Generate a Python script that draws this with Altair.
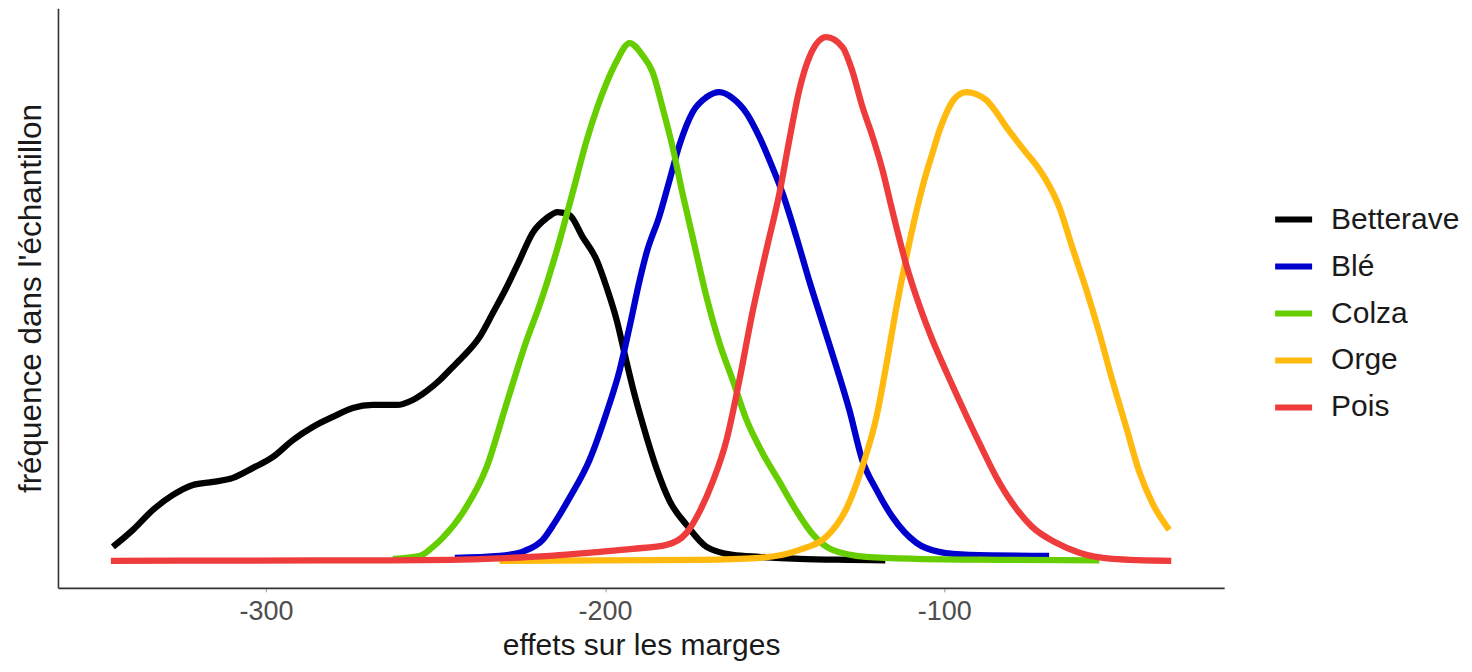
import altair as alt
import pandas as pd

# Density curves (x = effet sur les marges, y = relative frequency)
betterave_x = [-345.1, -339.2, -333.3, -327.4, -321.5, -315.6, -309.7, -303.8, -297.9, -292.0,
               -286.2, -280.3, -274.4, -268.5, -261.4, -256.7, -252.6, -248.7, -245.8, -242.0,
               -237.0, -233.1, -229.0, -225.2, -221.4, -217.2, -214.0, -210.5, -206.6, -202.5,
               -199.6, -196.6, -194.3, -191.9, -189.0, -184.8, -181.0, -176.0, -170.1, -162.4,
               -154.5, -142.7, -128.0, -117.4]
betterave_y = [14, 31, 51, 66, 76, 79, 83, 93, 104, 121,
               134, 144, 153, 156, 156, 161, 170, 181, 191, 204,
               224, 248, 274, 301, 328, 343, 349, 346, 324, 301,
               274, 241, 208, 174, 138, 92, 60, 36, 14, 6,
               4, 2, 1, 0.5]

ble_x = [-244.3, -231.1, -223.7, -218.4, -214.9, -210.5, -204.6, -199.6, -195.7, -192.8,
         -189.8, -187.8, -184.0, -181.0, -178.1, -174.2, -170.1, -166.3, -162.4, -158.3,
         -154.5, -150.7, -147.7, -143.6, -139.8, -135.9, -131.8, -128.0, -124.2, -120.0,
         -115.3, -108.2, -101.5, -92.6, -69.1]
ble_y = [3, 5, 10, 21, 38, 63, 101, 148, 191, 234,
         281, 308, 345, 381, 416, 449, 464, 469, 463, 448,
         424, 394, 368, 324, 280, 238, 194, 151, 101, 71,
         44, 18, 9, 6, 5]

colza_x = [-262.6, -254.6, -251.1, -247.9, -242.0, -234.9, -229.0, -223.1, -219.3, -214.3,
           -209.6, -205.5, -202.5, -199.6, -196.6, -192.8, -189.0, -186.0, -183.1, -180.1,
           -177.2, -174.2, -170.1, -166.3, -162.4, -158.3, -153.6, -148.6, -143.6, -138.9,
           -133.0, -123.0, -108.2, -83.8, -54.3]
colza_y = [2, 5, 13, 23, 48, 94, 158, 221, 256, 310,
           368, 420, 452, 478, 500, 518, 506, 489, 454, 414,
           368, 324, 264, 218, 181, 141, 108, 79, 50, 27,
           11, 4, 2, 1, 0.5]

orge_x = [-231.1, -201.6, -172.2, -154.5, -142.7, -134.8, -128.9, -124.2, -120.0, -117.1,
          -114.1, -111.2, -108.2, -105.9, -103.5, -101.5, -99.4, -97.1, -93.5, -90.6,
          -87.6, -84.7, -81.7, -78.8, -75.8, -72.9, -70.0, -66.1, -62.3, -58.2,
          -54.3, -50.5, -46.4, -42.6, -38.7, -33.7]
orge_y = [0, 0.5, 1, 3, 11, 24, 52, 94, 144, 196,
          254, 304, 350, 381, 408, 430, 448, 462, 469, 467,
          461, 449, 434, 421, 408, 396, 381, 354, 314, 272,
          228, 181, 134, 90, 58, 31]

pois_x = [-345.7, -304.7, -263.5, -245.8, -231.1, -216.3, -201.6, -191.9, -181.9, -176.0,
          -172.2, -168.3, -164.2, -160.4, -156.6, -152.4, -148.6, -145.7, -142.7, -139.8,
          -134.8, -130.0, -127.1, -124.2, -121.2, -118.3, -115.3, -111.2, -107.4, -103.5,
          -99.4, -94.7, -89.7, -84.7, -80.0, -74.1, -67.0, -60.2, -50.5, -33.1]
pois_y = [0, 0.3, 0.5, 1, 2.5, 5, 9, 12, 16, 28,
          49, 79, 121, 181, 248, 312, 368, 421, 472, 504,
          524, 514, 490, 455, 425, 392, 350, 296, 256, 221,
          189, 154, 118, 84, 58, 34, 18, 8, 2, 0]

cultures = ["Betterave", "Blé", "Colza", "Orge", "Pois"]
couleurs = ["#000000", "#0000CD", "#66CD00", "#FFB90F", "#EE3B3B"]
x_ticks = [-300, -200, -100]

series = [(betterave_x, betterave_y), (ble_x, ble_y), (colza_x, colza_y),
          (orge_x, orge_y), (pois_x, pois_y)]
frames = []
for name, (xs, ys) in zip(cultures, series):
    frames.append(pd.DataFrame({"effet": xs, "freq": ys, "culture": name,
                                "idx": list(range(len(xs)))}))
df = pd.concat(frames, ignore_index=True)

FONT = "Liberation Sans"

chart = alt.Chart(df).mark_line(strokeWidth=6.3, interpolate="monotone", strokeCap="butt").encode(
    x=alt.X("effet:Q",
            scale=alt.Scale(domain=[-361.3, -17.5], nice=False, zero=False),
            axis=alt.Axis(values=x_ticks, title="effets sur les marges", grid=False,
                          labelExpr="replace(datum.label, '\u2212', '-')",
                          domainColor="#333333", domainWidth=1.6,
                          tickColor="#999999", tickSize=4, tickWidth=1,
                          labelFontSize=27, labelColor="#4D4D4D", labelFont=FONT,
                          labelPadding=7,
                          titleFontSize=30, titleFont=FONT, titleFontWeight="normal",
                          titleColor="#1A1A1A", titlePadding=6)),
    y=alt.Y("freq:Q",
            scale=alt.Scale(domain=[-27, 553], nice=False, zero=False),
            axis=alt.Axis(title="fréquence dans l'échantillon", grid=False,
                          labels=False, ticks=False,
                          domainColor="#333333", domainWidth=1.6,
                          titleFontSize=31.5, titleFont=FONT, titleFontWeight="normal",
                          titleColor="#1A1A1A", titlePadding=10)),
    color=alt.Color("culture:N",
                    scale=alt.Scale(domain=cultures, range=couleurs),
                    legend=alt.Legend(title=None, orient="none", legendX=1215, legendY=190,
                                      symbolType="stroke", symbolSize=1369,
                                      symbolStrokeWidth=6, labelFontSize=30,
                                      labelFont=FONT, labelColor="#1A1A1A",
                                      labelOffset=16, rowPadding=10)),
    order=alt.Order("idx:Q"),
).properties(
    width=1167,
    height=580,
    autosize=alt.AutoSizeParams(type="none"),
    padding={"left": 50, "top": 0, "right": 240, "bottom": 76},
).configure_view(stroke=None)

chart.save("out.html", embed_options={"renderer": "svg", "actions": False})
